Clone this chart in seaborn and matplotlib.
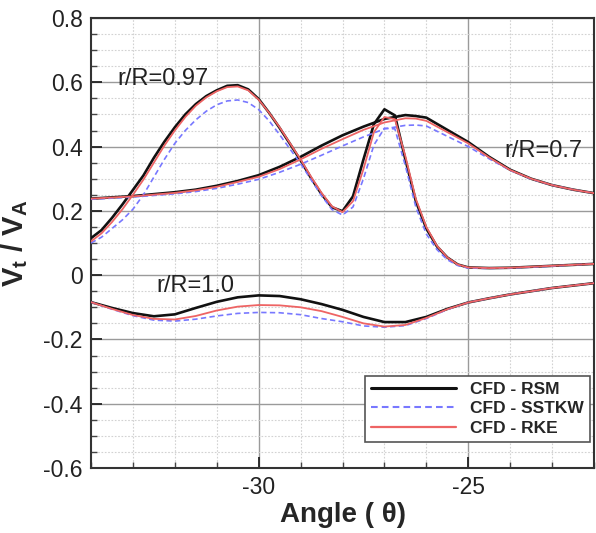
import numpy as np
import pandas as pd
import matplotlib
matplotlib.use("Agg")
import matplotlib.pyplot as plt
import seaborn as sns
from matplotlib.ticker import MultipleLocator
from matplotlib.lines import Line2D

# ---------------- data ----------------
models = ["CFD - RSM", "CFD - SSTKW", "CFD - RKE"]

# r/R = 0.97
x_097 = [-34, -33.75, -33.5, -33.25, -33, -32.75, -32.5, -32.25, -32, -31.75, -31.5,
         -31.25, -31, -30.75, -30.5, -30.25, -30, -29.75, -29.5, -29.25, -29, -28.75,
         -28.5, -28.25, -28, -27.75, -27.5, -27.25, -27, -26.75, -26.5, -26.25, -26,
         -25.75, -25.5, -25.25, -25, -24.5, -24, -23.5, -23, -22.5, -22]
rsm_097 = [0.115, 0.140, 0.178, 0.220, 0.265, 0.310, 0.365, 0.415, 0.460, 0.500, 0.532,
           0.557, 0.575, 0.589, 0.591, 0.578, 0.548, 0.505, 0.458, 0.408, 0.357, 0.302,
           0.252, 0.211, 0.199, 0.245, 0.360, 0.470, 0.516, 0.497, 0.360, 0.230, 0.145,
           0.090, 0.055, 0.033, 0.024, 0.022, 0.023, 0.026, 0.029, 0.032, 0.035]
sst_097 = [0.100, 0.118, 0.145, 0.172, 0.205, 0.250, 0.305, 0.360, 0.410, 0.450, 0.483,
           0.510, 0.530, 0.542, 0.545, 0.537, 0.515, 0.480, 0.437, 0.392, 0.347, 0.297,
           0.247, 0.204, 0.187, 0.212, 0.300, 0.405, 0.457, 0.455, 0.340, 0.212, 0.128,
           0.080, 0.048, 0.030, 0.022, 0.021, 0.022, 0.025, 0.028, 0.032, 0.035]
rke_097 = [0.105, 0.130, 0.165, 0.205, 0.250, 0.297, 0.350, 0.403, 0.450, 0.492, 0.527,
           0.553, 0.572, 0.585, 0.587, 0.575, 0.546, 0.505, 0.460, 0.410, 0.360, 0.306,
           0.256, 0.214, 0.196, 0.230, 0.330, 0.445, 0.492, 0.485, 0.370, 0.237, 0.150,
           0.092, 0.055, 0.033, 0.024, 0.022, 0.023, 0.026, 0.029, 0.032, 0.035]

# r/R = 0.7
x_070 = [-34, -33, -32, -31.5, -31, -30.5, -30, -29.5, -29, -28.5, -28, -27.5, -27,
         -26.5, -26.25, -26, -25.5, -25, -24.5, -24, -23.5, -23, -22.5, -22]
rsm_070 = [0.238, 0.246, 0.258, 0.266, 0.278, 0.293, 0.311, 0.337, 0.368, 0.403, 0.435,
           0.462, 0.486, 0.498, 0.495, 0.490, 0.452, 0.414, 0.368, 0.328, 0.300, 0.280,
           0.266, 0.255]
sst_070 = [0.236, 0.243, 0.253, 0.260, 0.270, 0.283, 0.298, 0.320, 0.345, 0.373, 0.402,
           0.430, 0.455, 0.466, 0.467, 0.464, 0.432, 0.400, 0.362, 0.326, 0.299, 0.280,
           0.266, 0.255]
rke_070 = [0.238, 0.245, 0.256, 0.264, 0.275, 0.290, 0.306, 0.330, 0.360, 0.393, 0.423,
           0.452, 0.475, 0.488, 0.487, 0.480, 0.445, 0.410, 0.366, 0.327, 0.300, 0.280,
           0.266, 0.255]

# r/R = 1.0
x_100 = [-34, -33.5, -33, -32.5, -32, -31.5, -31, -30.5, -30, -29.5, -29, -28.5, -28,
         -27.5, -27, -26.5, -26, -25.5, -25, -24.5, -24, -23, -22]
rsm_100 = [-0.084, -0.102, -0.118, -0.128, -0.122, -0.102, -0.083, -0.069, -0.063, -0.065,
           -0.075, -0.090, -0.108, -0.130, -0.146, -0.146, -0.130, -0.105, -0.085, -0.072,
           -0.060, -0.040, -0.025]
sst_100 = [-0.084, -0.106, -0.126, -0.140, -0.143, -0.137, -0.127, -0.119, -0.116, -0.117,
           -0.123, -0.135, -0.145, -0.158, -0.162, -0.157, -0.135, -0.107, -0.085, -0.072,
           -0.060, -0.040, -0.025]
rke_100 = [-0.084, -0.105, -0.124, -0.136, -0.138, -0.127, -0.110, -0.098, -0.093, -0.094,
           -0.100, -0.112, -0.130, -0.150, -0.160, -0.155, -0.133, -0.106, -0.085, -0.072,
           -0.060, -0.040, -0.025]

radius_labels = ["r/R=0.97", "r/R=0.7", "r/R=1.0"]
x_ticks = [-30, -25]
y_ticks = [-0.6, -0.4, -0.2, 0, 0.2, 0.4, 0.6, 0.8]
y_tick_labels = ["-0.6", "-0.4", "-0.2", "0", "0.2", "0.4", "0.6", "0.8"]

# ---------------- build a long table ----------------
frames = []
for rad, xs, series in [("0.97", x_097, [rsm_097, sst_097, rke_097]),
                        ("0.7", x_070, [rsm_070, sst_070, rke_070]),
                        ("1.0", x_100, [rsm_100, sst_100, rke_100])]:
    for m, ys in zip(models, series):
        frames.append(pd.DataFrame({"angle": xs, "vt": ys, "model": m, "radius": rad}))
df = pd.concat(frames, ignore_index=True)

# ---------------- style ----------------
sns.set_theme(style="white")
plt.rcParams["font.family"] = ["Liberation Sans", "DejaVu Sans"]
plt.rcParams["mathtext.fontset"] = "custom"
plt.rcParams["mathtext.rm"] = "Liberation Sans"
plt.rcParams["mathtext.bf"] = "Liberation Sans:bold"
plt.rcParams["mathtext.it"] = "Liberation Sans:italic"

styles = {
    "CFD - RSM": dict(color="#111111", lw=1.9, ls="-", z=3),
    "CFD - SSTKW": dict(color="#7878ff", lw=1.2, ls=(0, (3.2, 2.0)), z=4),
    "CFD - RKE": dict(color="#ee6464", lw=1.3, ls="-", z=5),
}

fig = plt.figure(figsize=(5.96, 5.33), dpi=100)
ax = fig.add_axes([91 / 596, 1 - 468 / 533, (594 - 91) / 596, 450 / 533])

for m in models:
    st = styles[m]
    for rad in ["0.97", "0.7", "1.0"]:
        sub = df[(df.model == m) & (df.radius == rad)]
        sns.lineplot(data=sub, x="angle", y="vt", ax=ax, color=st["color"],
                     linewidth=st["lw"], linestyle=st["ls"], sort=False,
                     estimator=None, legend=False, zorder=st["z"])

ax.set_xlim(-34, -22)
ax.set_ylim(-0.6, 0.8)
ax.set_xticks(x_ticks)
ax.set_xticklabels(["-30", "-25"])
ax.set_yticks(y_ticks)
ax.set_yticklabels(y_tick_labels)
ax.xaxis.set_minor_locator(MultipleLocator(1))
ax.yaxis.set_minor_locator(MultipleLocator(0.05))

ax.grid(which="major", color="#9a9a9a", linewidth=1.0, linestyle="-", zorder=0)
ax.grid(which="minor", color="#d2d2d2", linewidth=0.8, linestyle=(0, (1.5, 1.5)), zorder=0)
ax.set_axisbelow(True)

ax.tick_params(which="major", direction="in", length=8, width=1.3, colors="#222222",
               left=True, bottom=True, labelsize=16.5, pad=6)
ax.tick_params(which="minor", direction="in", length=4, width=1.0, colors="#444444",
               left=True, bottom=True)
for s in ax.spines.values():
    s.set_color("#333333")
    s.set_linewidth(1.5)

ax.set_xlabel("Angle ( θ)", fontsize=20, fontweight="bold")
ax.set_ylabel(r"$\mathbf{V_t\ /\ V_A}$", fontsize=21, fontweight="bold")
ax.xaxis.set_label_coords(0.5, -0.075)
ax.yaxis.set_label_coords(-0.122, 0.5)

ax.text(-33.38, 0.591, radius_labels[0], fontsize=17, ha="left", va="baseline", color="#222222")
ax.text(-24.14, 0.367, radius_labels[1], fontsize=17, ha="left", va="baseline", color="#222222")
ax.text(-32.45, -0.053, radius_labels[2], fontsize=17, ha="left", va="baseline", color="#222222")

handles = [Line2D([0], [0], color=styles[m]["color"], lw=styles[m]["lw"] + 0.3,
                  linestyle=styles[m]["ls"]) for m in models]
leg = ax.legend(handles, models, loc="lower right", bbox_to_anchor=(0.992, 0.058),
                prop=dict(weight="bold", size=12.5), handlelength=4.9, handletextpad=0.8,
                labelspacing=0.25, borderpad=0.35, fancybox=False, framealpha=1,
                edgecolor="#555555", borderaxespad=0)
leg.get_frame().set_linewidth(1.2)

fig.savefig("out.png", dpi=100, facecolor="white")
